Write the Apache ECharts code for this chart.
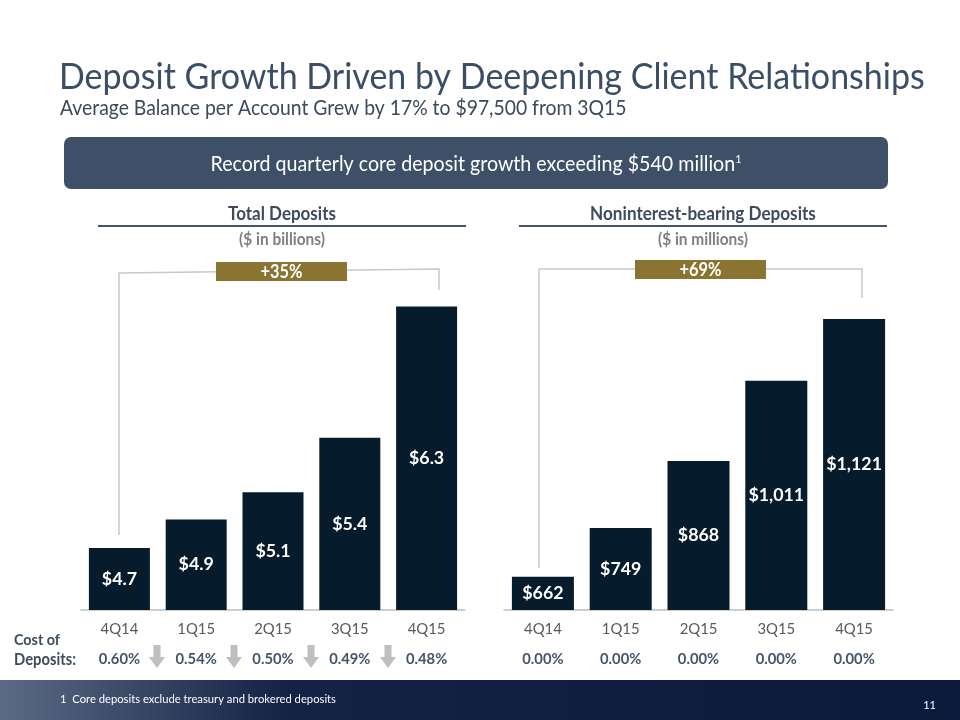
<!DOCTYPE html>
<html><head><meta charset="utf-8">
<script src="https://cdn.jsdelivr.net/npm/echarts@6/dist/echarts.min.js"></script>
<style>html,body{margin:0;padding:0;background:#fff}#c{width:960px;height:720px}</style>
</head><body><div id="c"></div>
<script>
// ---- data ----
const quarters = ['4Q14', '1Q15', '2Q15', '3Q15', '4Q15'];
const totalDeposits = [4.70, 4.89, 5.07, 5.43, 6.30];      // $ billions
const nonInterestDeposits = [662, 749, 868, 1011, 1121];   // $ millions
const costTotal = ['0.60%', '0.54%', '0.50%', '0.49%', '0.48%'];
const costNonInt = ['0.00%', '0.00%', '0.00%', '0.00%', '0.00%'];
const growthTotal = '+35%';
const growthNonInt = '+69%';

const FONT = 'Lato';
const K = 1.1; // height boost, compensated horizontally
const cv = document.createElement('canvas').getContext('2d');
function fit(text, weight, target) {
  cv.font = weight + ' 100px ' + FONT;
  return 100 * target / cv.measureText(text).width;
}

const chart = echarts.init(document.getElementById('c'), null, {renderer: 'canvas'});

const catSize = fit('4Q14', 'normal', 35) * 1.08;
const costSize = fit('0.60%', 'bold', 39) * 1.06;
const barLblSize = fit('$4.7', 'bold', 32) * 1.1;

function xAxisFor(idx, costs) {
  return {
    type: 'category', gridIndex: idx, data: quarters,
    axisLine: {lineStyle: {color: '#bfbfbf', width: 1.5}},
    axisTick: {show: false},
    axisLabel: {
      margin: 4,
      formatter: (v, i) => '{q|' + v + '}\n{c|' + costs[i] + '}',
      rich: {
        q: {fontFamily: FONT, fontSize: catSize, color: '#595959', lineHeight: 30},
        c: {fontFamily: FONT, fontSize: costSize, fontWeight: 'bold', color: '#44546a', lineHeight: 30}
      }
    }
  };
}

function arrow(cx) {
  return {type: 'polygon', shape: {points: [
    [cx - 3.5, 645], [cx + 3.5, 645], [cx + 3.5, 657], [cx + 8, 657], [cx, 668], [cx - 8, 657], [cx - 3.5, 657]
  ]}, style: {fill: '#bfbfbf'}};
}

function text(x, y, t, width, weight, color, align) {
  const s = fit(t, weight, width);
  return {type: 'text', x: x, y: y, scaleX: 1 / K, style: {text: t, fontFamily: FONT, fontSize: s * K, fontWeight: weight,
    fill: color, align: align || 'left', verticalAlign: 'middle'}};
}

const bannerText = 'Record quarterly core deposit growth exceeding $540 million';
const graphic = [
  // footer
  {type: 'rect', shape: {x: 0, y: 680, width: 960, height: 40},
   style: {fill: new echarts.graphic.LinearGradient(0, 0, 1, 0, [
     {offset: 0, color: '#5b6a84'}, {offset: 0.3, color: '#132245'}, {offset: 1, color: '#0b1a3a'}])}},
  text(60, 699, '1  Core deposits exclude treasury and brokered deposits', 276, 'normal', '#ffffff'),
  {type: 'text', x: 936, y: 705, style: {text: '11', fontFamily: FONT, fontSize: 11, fill: '#ffffff', align: 'right', verticalAlign: 'middle'}},
  // title
  text(59, 77, 'Deposit Growth Driven by Deepening Client Relationships', 866, 'normal', '#3b4e66'),
  text(60, 108, 'Average Balance per Account Grew by 17% to $97,500 from 3Q15', 567, 'normal', '#3b4a5c'),
  // banner
  {type: 'rect', shape: {x: 64, y: 137, width: 824, height: 52, r: 7}, style: {fill: '#3d5068'}},
  {type: 'text', x: 476, y: 164, scaleX: 1 / K, style: {
    text: '{m|' + bannerText + '}{s|1}',
    align: 'center', verticalAlign: 'middle',
    rich: {
      m: {fontFamily: FONT, fontSize: fit(bannerText, 'normal', 525) * K, fill: '#ffffff'},
      s: {fontFamily: FONT, fontSize: 12, fill: '#ffffff', verticalAlign: 'top', padding: [0, 0, 10, 0]}
    }}},
  // headers
  text(282, 214, 'Total Deposits', 108, 'bold', '#3d4b5c', 'center'),
  {type: 'line', shape: {x1: 98, y1: 226, x2: 466, y2: 226}, style: {stroke: '#44546a', lineWidth: 2}},
  text(282, 240, '($ in billions)', 86, 'bold', '#7f7f7f', 'center'),
  text(703, 214, 'Noninterest-bearing Deposits', 226, 'bold', '#3d4b5c', 'center'),
  {type: 'line', shape: {x1: 519, y1: 226, x2: 887, y2: 226}, style: {stroke: '#44546a', lineWidth: 2}},
  text(703, 240, '($ in millions)', 90, 'bold', '#7f7f7f', 'center'),
  // brackets
  {type: 'polyline', shape: {points: [[119, 535], [119, 273], [439, 269], [439, 290]]},
   style: {stroke: '#c8c8c8', lineWidth: 1.5, fill: null}},
  {type: 'rect', shape: {x: 216, y: 262, width: 131, height: 19}, style: {fill: '#8a7432'}},
  text(281.5, 272, growthTotal, 42, 'bold', '#ffffff', 'center'),
  {type: 'polyline', shape: {points: [[539, 568], [539, 269], [862, 269], [862, 298]]},
   style: {stroke: '#c8c8c8', lineWidth: 1.5, fill: null}},
  {type: 'rect', shape: {x: 635, y: 260, width: 131, height: 19}, style: {fill: '#8a7432'}},
  text(700.5, 270, growthNonInt, 42, 'bold', '#ffffff', 'center'),
  // cost of deposits
  text(14, 640, 'Cost of', 46, 'bold', '#3d4b5c'),
  text(14, 660, 'Deposits:', 62, 'bold', '#3d4b5c'),
  arrow(157), arrow(234), arrow(311), arrow(388)
];

chart.setOption({
  animation: false,
  backgroundColor: '#ffffff',
  grid: [
    {left: 81, width: 384, top: 300, height: 310},
    {left: 504, width: 389, top: 300, height: 310}
  ],
  xAxis: [xAxisFor(0, costTotal), xAxisFor(1, costNonInt)],
  yAxis: [
    {type: 'value', gridIndex: 0, min: 4.29, max: 6.343, show: false, splitLine: {show: false}},
    {type: 'value', gridIndex: 1, min: 603, max: 1154.6, show: false, splitLine: {show: false}}
  ],
  series: [
    {type: 'bar', xAxisIndex: 0, yAxisIndex: 0, data: totalDeposits, barWidth: 61,
     itemStyle: {color: '#061b2c'},
     label: {show: true, position: 'inside', formatter: p => '$' + p.value.toFixed(1),
       fontFamily: FONT, fontWeight: 'bold', fontSize: barLblSize, color: '#ffffff'}},
    {type: 'bar', xAxisIndex: 1, yAxisIndex: 1, data: nonInterestDeposits, barWidth: 62,
     itemStyle: {color: '#061b2c'},
     label: {show: true, position: 'inside', formatter: p => '$' + p.value.toLocaleString('en-US'),
       fontFamily: FONT, fontWeight: 'bold', fontSize: barLblSize, color: '#ffffff'}}
  ],
  graphic: graphic
});
</script>
</body></html>
